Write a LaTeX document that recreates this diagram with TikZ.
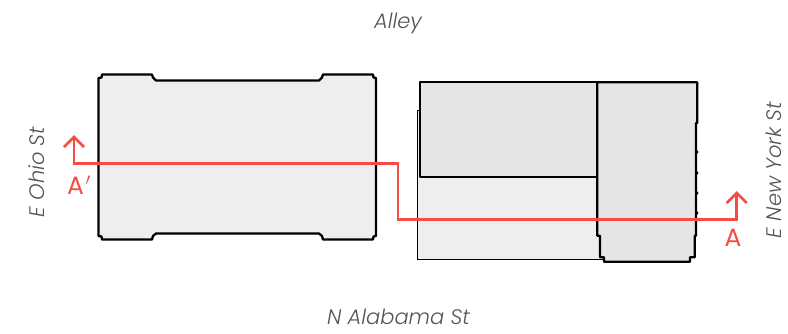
\documentclass[tikz,border=0pt]{standalone}
\usepackage{fontspec}
\setmainfont{Poppins Light}[ItalicFont=Poppins Light Italic]
\newfontfamily\labelfont{Poppins}
\definecolor{redline}{HTML}{F44D43}
\definecolor{lightfill}{HTML}{EEEEEE}
\definecolor{darkfill}{HTML}{E5E5E5}
\definecolor{streettext}{HTML}{555555}
\tikzset{
  wall/.style={draw=black,line width=2.3pt,line join=round},
  thinwall/.style={draw=black,line width=1pt},
  section/.style={draw=redline,line width=2.6pt,line join=miter},
  street/.style={text=streettext,font=\itshape\fontsize{21}{24}\selectfont,inner sep=0pt},
  sectionlabel/.style={text=redline,font=\labelfont\fontsize{25}{28}\selectfont,inner sep=0pt}
}
\begin{document}
\begin{tikzpicture}[x=1pt,y=-1pt]
\useasboundingbox (0,0) rectangle (788,333);
% left building
\draw[wall,fill=lightfill] (102,74.5) -- (152,74.5) -- (153,77.5) -- (156,80.5) -- (319,80.5) -- (322,77.5) -- (323,74.5) -- (373,74.5) -- (373.5,77.5) -- (376,78) -- (376,236) -- (373.5,236.5) -- (373,239.5) -- (323,239.5) -- (322,236) -- (319,233.5) -- (156,233.5) -- (153,236) -- (152,239.5) -- (102,239.5) -- (101.5,236.5) -- (98.5,236) -- (98.5,78) -- (101.5,77.5) -- cycle;
% right building
\draw[thinwall,fill=lightfill] (417.3,110.7) rectangle (606,259.3);
\draw[wall,fill=darkfill] (420,82.3) rectangle (597.3,177.3);
\draw[wall,fill=darkfill] (597.3,82.3) -- (697.3,82.3) -- (697.3,123) -- (696,123) -- (696,151) -- (697.3,152) -- (696,153) -- (696,172) -- (697.3,173) -- (696,174) -- (696,192) -- (697.3,193) -- (696,194) -- (696,212) -- (697.3,213) -- (696,214) -- (696,235.7) -- (694.7,235.7) -- (694.7,257.3) -- (690,257.3) -- (690,261.7) -- (604,261.7) -- (604,257.3) -- (600,257.3) -- (600,235.7) -- (597.3,235.7) -- cycle;
% section line
\coordinate (startA) at (74,137);
\coordinate (endA) at (736.7,193);
\draw[section] (startA) -- (74,163.7) -- (398,163.7) -- (398,219.3) -- (736.7,219.3) -- (endA);
\draw[section] (64,147) -- (startA) -- (84,147);
\draw[section] (726.7,203) -- (endA) -- (746.7,203);
% labels
\node[street] (alley) at (398,23.5) {Alley};
\node[street] (alabama) at (398.5,316.5) {N Alabama St};
\node[street,rotate=90] (ohio) at (37,172) {E Ohio St};
\node[street,rotate=90] (newyork) at (773.5,170) {E New York St};
\node[sectionlabel] (aprime) at (79,185) {A\kern1.5pt$'$};
\node[sectionlabel] (a) at (733,237.5) {A};
\end{tikzpicture}
\end{document}
